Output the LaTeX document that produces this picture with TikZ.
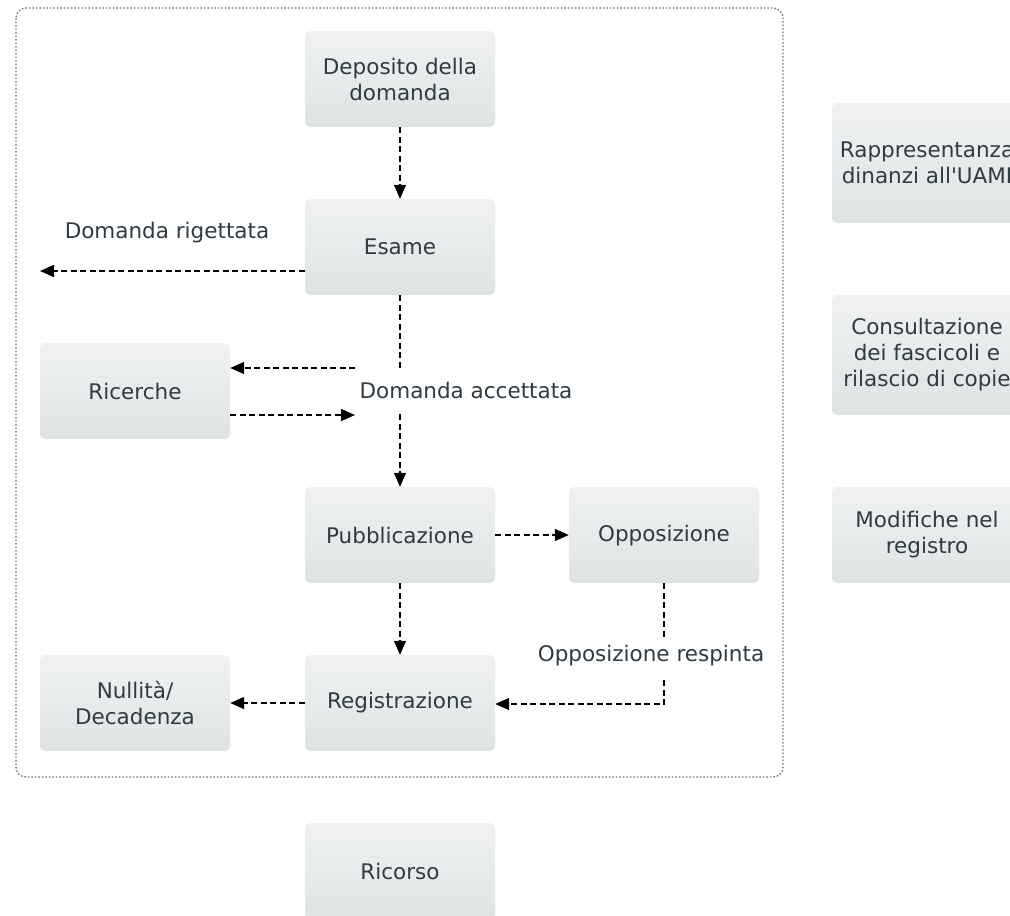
\documentclass[tikz,border=0pt]{standalone}
\usepackage{fontspec}
\setmainfont{DejaVu Sans}
\usetikzlibrary{arrows.meta}
\definecolor{txt}{HTML}{2E3B42}
\definecolor{boxtop}{HTML}{F0F2F2}
\definecolor{boxbot}{HTML}{DFE3E4}
\definecolor{frame}{HTML}{707070}
\tikzset{
  stepbox/.style={rectangle, rounded corners=5pt, top color=boxtop, bottom color=boxbot,
    draw=none, minimum width=190pt, minimum height=96pt, align=center, text=txt,
    font=\fontsize{21.5}{26}\selectfont},
  lbl/.style={text=txt, font=\fontsize{21.5}{26}\selectfont, inner sep=1pt},
  conn/.style={line width=1.5pt, dash pattern=on 6pt off 3.5pt, black},
  arr/.style={conn, -{Triangle[length=14pt,width=12pt]}},
}
\begin{document}
\begin{tikzpicture}[x=1pt,y=-1pt]
\clip (0,0) rectangle (1010,916);
\fill[white] (0,0) rectangle (1010,916);
% container
\draw[frame, line width=1.4pt, dash pattern=on 1.5pt off 2pt, rounded corners=10pt] (16,8) rectangle (783,777);
% nodes
\node[stepbox] (dep) at (400,79) {Deposito della\\domanda};
\node[stepbox] (esa) at (400,247) {Esame};
\node[stepbox] (ric) at (135,391) {Ricerche};
\node[stepbox] (pub) at (400,535) {Pubblicazione};
\node[stepbox, text depth=4pt] (opp) at (664,535) {Opposizione};
\node[stepbox] (reg) at (400,703) {Registrazione};
\node[stepbox] (nul) at (135,703) {Nullità/\\Decadenza};
\node[stepbox] (rcs) at (400,871) {Ricorso};
\node[stepbox, minimum height=120pt] (rap) at (927,163) {Rappresentanza\\dinanzi all\textquotesingle UAMI};
\node[stepbox, minimum height=120pt] (con) at (927,355) {Consultazione\\dei fascicoli e\\rilascio di copie};
\node[stepbox] (mod) at (927,535) {Modifiche nel\\registro};
% labels
\node[lbl] (lrig) at (167,233) {Domanda rigettata};
\node[lbl] (lacc) at (466,390) {Domanda accettata};
\node[lbl] (lres) at (651,656) {Opposizione respinta};
% helper coordinates
\coordinate (rigend) at (40,271);
\coordinate (accA) at (400,368);
\coordinate (accB) at (400,414);
\coordinate (ricA) at (355,368);
\coordinate (ricB) at (355,415);
\coordinate (resA) at (664,637);
\coordinate (resB) at (664,680);
\coordinate (resC) at (664,704);
% connectors
\draw[arr] (dep.south) -- (esa.north);
\draw[arr] (esa.west |- rigend) -- (rigend);
\draw[conn] (esa.south) -- (accA);
\draw[arr] (accB) -- (pub.north);
\draw[arr] (ricA) -- (ric.east |- ricA);
\draw[arr] (ric.east |- ricB) -- (ricB);
\draw[arr] (pub.east) -- (opp.west |- pub.east);
\draw[arr] (pub.south) -- (reg.north);
\draw[conn] (opp.south) -- (resA);
\draw[arr] (resB) -- (resC) -- (reg.east |- resC);
\draw[arr] (reg.west) -- (nul.east);
\end{tikzpicture}
\end{document}
